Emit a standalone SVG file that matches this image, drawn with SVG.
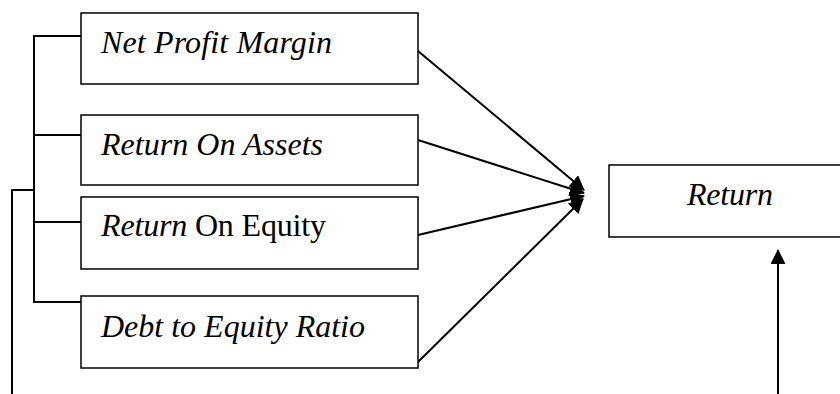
<svg xmlns="http://www.w3.org/2000/svg" width="840" height="394" viewBox="0 0 840 394">
<style>
.box{fill:#fff;stroke:#000;stroke-width:1.5}
.t{font-family:'Liberation Serif','Times New Roman',serif;font-size:32px;fill:#000}
.i{font-style:italic}
.ln{stroke:#000;stroke-width:2;fill:none}
</style>
<defs>
<marker id="ah" markerWidth="15" markerHeight="15" refX="14" refY="7.5" orient="auto" markerUnits="userSpaceOnUse">
<path d="M0,0 L15,7.5 L0,15 z" fill="#000"/>
</marker>
</defs>
<rect width="840" height="394" fill="#fff"/>
<g id="connectors">
<path class="ln" d="M81,36 H34 V302 H81 M34,135 H81 M34,222 H81"/>
<path class="ln" d="M12,394 V190 H34"/>
<line class="ln" x1="418" y1="51" x2="584" y2="190" marker-end="url(#ah)"/>
<line class="ln" x1="418" y1="140" x2="584" y2="193" marker-end="url(#ah)"/>
<line class="ln" x1="418" y1="235" x2="584" y2="196" marker-end="url(#ah)"/>
<line class="ln" x1="418" y1="362" x2="583" y2="199" marker-end="url(#ah)"/>
<line class="ln" x1="778" y1="394" x2="778" y2="250" marker-end="url(#ah)"/>
</g>
<g id="npm">
<rect class="box" x="81" y="13" width="337" height="71"/>
<text class="t i" x="101" y="53" textLength="231" lengthAdjust="spacing">Net Profit Margin</text>
</g>
<g id="roa">
<rect class="box" x="81" y="115" width="337" height="70"/>
<text class="t i" x="101" y="155" textLength="222" lengthAdjust="spacing">Return On Assets</text>
</g>
<g id="roe">
<rect class="box" x="81" y="197" width="337" height="72"/>
<text class="t" x="101" y="236" textLength="225" lengthAdjust="spacing"><tspan class="i">Return</tspan> On Equity</text>
</g>
<g id="der">
<rect class="box" x="81" y="296" width="337" height="72"/>
<text class="t i" x="101" y="337" textLength="264" lengthAdjust="spacing">Debt to Equity Ratio</text>
</g>
<g id="ret">
<rect class="box" x="609" y="165" width="240" height="72"/>
<text class="t i" x="687" y="205" textLength="86" lengthAdjust="spacing">Return</text>
</g>
</svg>
